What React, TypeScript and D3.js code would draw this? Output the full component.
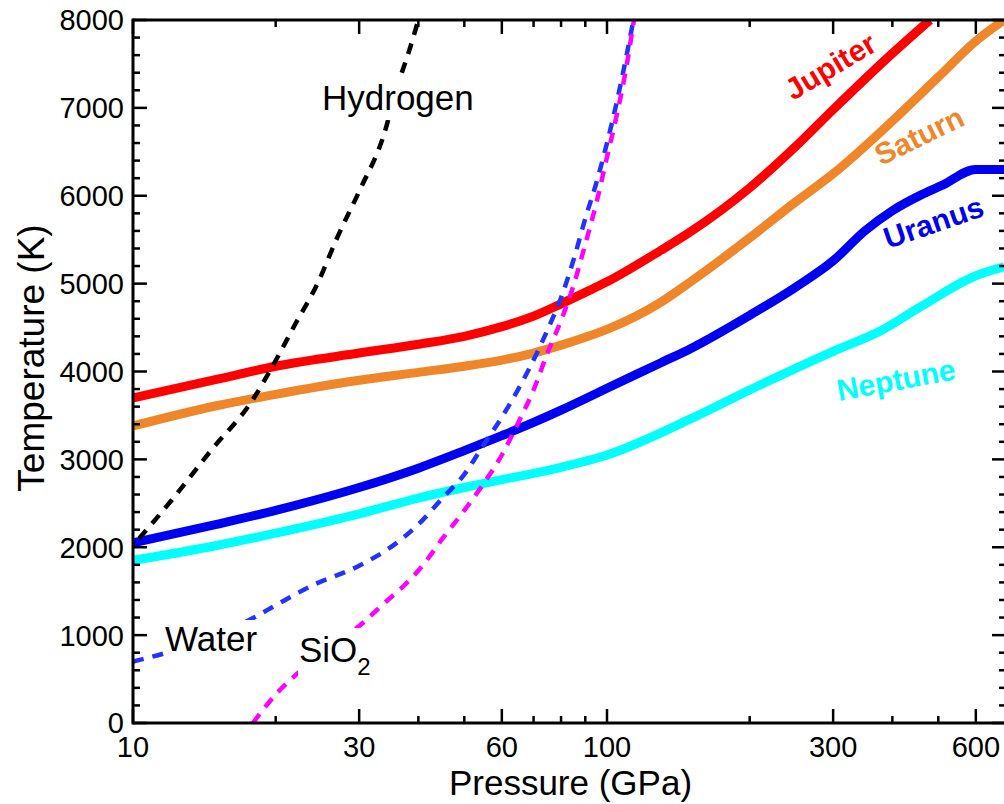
import * as d3 from 'd3';

// planet adiabats (pressure GPa, temperature K)
const jupiterP = [10, 15, 20, 30, 40, 50, 60, 70, 80, 90, 100, 130, 150, 200, 250, 300, 400, 480];
const jupiterT = [3700, 3910, 4060, 4210, 4310, 4400, 4510, 4630, 4770, 4900, 5020, 5380, 5590, 6090, 6560, 6980, 7620, 8000];

const saturnP = [10, 15, 20, 30, 40, 50, 60, 70, 80, 90, 100, 130, 150, 200, 250, 300, 400, 500, 600, 688];
const saturnT = [3380, 3610, 3740, 3900, 3990, 4060, 4130, 4210, 4300, 4390, 4480, 4790, 5020, 5520, 5930, 6250, 6850, 7350, 7760, 8000];

const uranusP = [10, 15, 20, 30, 40, 50, 60, 70, 80, 90, 100, 130, 150, 200, 250, 300, 350, 400, 460, 510, 600, 688];
const uranusT = [2050, 2260, 2420, 2680, 2900, 3100, 3270, 3420, 3560, 3690, 3810, 4100, 4260, 4640, 4960, 5260, 5600, 5830, 6010, 6120, 6300, 6300];

const neptuneP = [10, 15, 20, 30, 40, 50, 60, 70, 80, 100, 150, 200, 300, 380, 460, 600, 688];
const neptuneT = [1850, 2020, 2160, 2380, 2560, 2680, 2770, 2840, 2910, 3050, 3460, 3790, 4230, 4470, 4740, 5090, 5190];

// melting curves (dashed)
const hydrogenP = [10.3, 12, 14.6, 17.9, 19.7, 22, 24.5, 27, 30, 33.9, 36, 38.3, 40];
const hydrogenT = [2100, 2520, 3100, 3680, 4060, 4540, 5000, 5530, 6050, 6710, 7220, 7660, 8000];

const waterP = [10, 11.6, 18, 20, 24, 30, 36, 40, 45, 50, 55, 60, 65, 70, 75, 80, 85, 90, 95, 100, 105, 110, 113.7];
const waterT = [700, 790, 1200, 1340, 1570, 1790, 2050, 2260, 2560, 2830, 3170, 3480, 3800, 4130, 4480, 4840, 5270, 5740, 6150, 6600, 7080, 7600, 8000];

const sio2P = [17.9, 20.2, 22.3, 30.7, 34, 37.4, 40.6, 45, 50, 55, 60, 65, 70, 75, 80, 85, 90, 95, 100, 105, 110, 114];
const sio2T = [0, 350, 570, 1150, 1370, 1570, 1775, 2100, 2420, 2730, 3050, 3420, 3790, 4220, 4580, 4980, 5450, 5920, 6440, 6930, 7480, 8000];

// axis ticks
const xMajorTicks = [10, 30, 60, 100, 300, 600];
const xMinorTicks = [20, 40, 50, 70, 80, 90, 200, 400, 500];
const yMajorTicks = [0, 1000, 2000, 3000, 4000, 5000, 6000, 7000, 8000];
const yMinorTicks = d3.range(0, 8001, 200).filter(v => v % 1000 !== 0);

const FONT = 'Liberation Sans, Arial, sans-serif';

export default function App() {
  const left = 133;
  const right = 1004;
  const top = 20;
  const bottom = 723;

  const x = d3.scaleLog().domain([10, 688]).range([left, right]);
  const y = d3.scaleLinear().domain([0, 8000]).range([bottom, top]);

  const line = d3.line<[number, number]>()
    .x(d => x(d[0]))
    .y(d => y(d[1]))
    .curve(d3.curveMonotoneX);

  const path = (ps: number[], ts: number[]) => line(ps.map((p, i) => [p, ts[i]]) as [number, number][]) || '';

  const solid = [
    { p: neptuneP, t: neptuneT, color: '#00ffff' },
    { p: uranusP, t: uranusT, color: '#0000f0' },
    { p: saturnP, t: saturnT, color: '#f0862a' },
    { p: jupiterP, t: jupiterT, color: '#ff0000' },
  ];
  const dashed = [
    { p: hydrogenP, t: hydrogenT, color: '#000000' },
    { p: waterP, t: waterT, color: '#2233ff' },
    { p: sio2P, t: sio2T, color: '#ff00ff' },
  ];

  return (
    <svg width={1004} height={804} style={{ position: 'absolute', left: 0, top: 0, background: '#fff' }} fontFamily={FONT}>
      <defs>
        <clipPath id="plot">
          <rect x={left} y={top} width={right - left} height={bottom - top} />
        </clipPath>
      </defs>

      <g clipPath="url(#plot)">
        {solid.map((s, i) => (
          <path key={i} d={path(s.p, s.t)} fill="none" stroke={s.color} strokeWidth={9} strokeLinejoin="round" />
        ))}
        {dashed.map((s, i) => (
          <path key={i} d={path(s.p, s.t)} fill="none" stroke={s.color} strokeWidth={4.5} strokeDasharray="11 9" />
        ))}
      </g>

      {/* text labels sit on white boxes that hide the dashed curves */}
      <rect x={318} y={80} width={166} height={40} fill="#fff" />
      <text x={322} y={110} fontSize={35} fill="#000">Hydrogen</text>
      <rect x={164} y={620} width={104} height={40} fill="#fff" />
      <text x={165} y={651} fontSize={35} fill="#000">Water</text>
      <rect x={298} y={628} width={78} height={54} fill="#fff" />
      <text x={299} y={662} fontSize={35} fill="#000">SiO<tspan fontSize={24} dy={13}>2</tspan></text>

      {/* planet names */}
      <g fontWeight="bold" fontSize={30}>
        <text transform="translate(793,101) rotate(-31)" fill="#ff0000">Jupiter</text>
        <text transform="translate(881,166) rotate(-26)" fill="#f0862a">Saturn</text>
        <text transform="translate(888,249) rotate(-19)" fill="#0000f0">Uranus</text>
        <text transform="translate(839,401) rotate(-10.5)" fill="#00ffff">Neptune</text>
      </g>

      {/* frame */}
      <g stroke="#000" strokeWidth={3}>
        <line x1={left} x2={left} y1={top - 1.5} y2={bottom + 1.5} />
        <line x1={left} x2={right} y1={bottom} y2={bottom} />
        <line x1={left} x2={right} y1={top} y2={top} />
      </g>

      {/* ticks on all four sides */}
      <g stroke="#000" strokeWidth={2.5}>
        {xMajorTicks.map(v => (
          <g key={'M' + v}>
            <line x1={x(v)} x2={x(v)} y1={bottom} y2={bottom - 14} />
            <line x1={x(v)} x2={x(v)} y1={top} y2={top + 14} />
          </g>
        ))}
        {xMinorTicks.map(v => (
          <g key={'m' + v}>
            <line x1={x(v)} x2={x(v)} y1={bottom} y2={bottom - 7} />
            <line x1={x(v)} x2={x(v)} y1={top} y2={top + 7} />
          </g>
        ))}
        {yMajorTicks.map(v => (
          <g key={'yM' + v}>
            <line x1={left} x2={left + 14} y1={y(v)} y2={y(v)} />
            <line x1={right} x2={right - 12} y1={y(v)} y2={y(v)} />
          </g>
        ))}
        {yMinorTicks.map(v => (
          <g key={'ym' + v}>
            <line x1={left} x2={left + 7} y1={y(v)} y2={y(v)} />
            <line x1={right} x2={right - 5} y1={y(v)} y2={y(v)} />
          </g>
        ))}
      </g>

      {/* tick labels */}
      <g fontSize={29} fill="#000">
        {xMajorTicks.map(v => (
          <text key={v} x={x(v)} y={757} textAnchor="middle">{v}</text>
        ))}
        {yMajorTicks.map(v => (
          <text key={v} x={124} y={y(v)} dy="0.36em" textAnchor="end">{v}</text>
        ))}
      </g>

      {/* axis titles */}
      <text x={(left + right) / 2 + 2} y={795} fontSize={35} textAnchor="middle">Pressure (GPa)</text>
      <text transform="translate(44,358) rotate(-90)" fontSize={37} textAnchor="middle">Temperature (K)</text>
    </svg>
  );
}
